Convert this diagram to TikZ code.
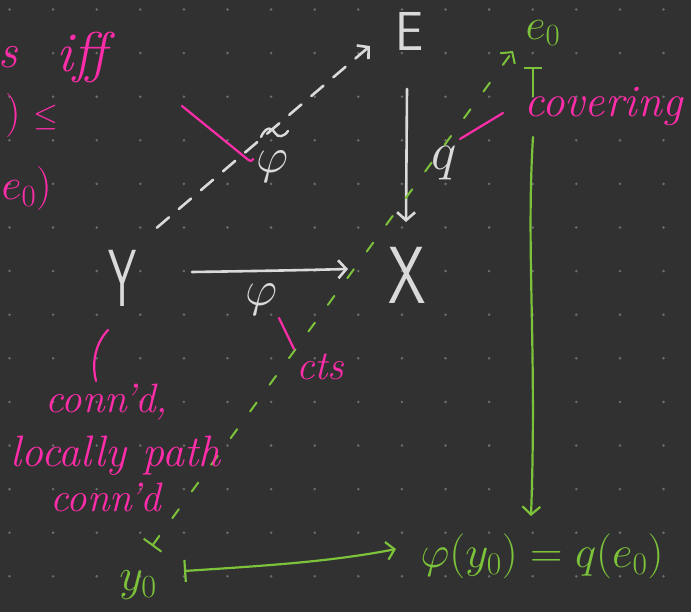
\RequirePackage{fix-cm}
\documentclass[tikz,border=0pt]{standalone}
\usepackage{graphicx}
\usetikzlibrary{arrows.meta}
\definecolor{bg}{HTML}{313131}
\definecolor{dotc}{HTML}{6E6E6E}
\definecolor{wht}{HTML}{DADADA}
\definecolor{pnk}{HTML}{FF2DAA}
\definecolor{grn}{HTML}{7CC23A}
\tikzset{
  chev/.tip={Straight Barb[length=8pt,width=18pt]},
  wline/.style={draw=wht, line width=2.6pt, line cap=round},
  gline/.style={draw=grn, line width=2.2pt, line cap=round},
  pline/.style={draw=pnk, line width=2.2pt, line cap=round},
  wlab/.style={text=wht, inner sep=0pt},
  glab/.style={text=grn, inner sep=0pt},
  ptext/.style={text=pnk, inner sep=0pt, font=\fontsize{41}{41}\selectfont\itshape},
  pmath/.style={text=pnk, inner sep=0pt, font=\fontsize{44}{44}\selectfont},
}
\begin{document}
\begin{tikzpicture}[x=1pt,y=-1pt]
\useasboundingbox (0,0) rectangle (691,612);
\clip (0,0) rectangle (691,612);
\fill[bg] (0,0) rectangle (691,612);
\foreach \i in {0,...,15}{\foreach \j in {0,...,13}{\fill[dotc] (9.5+43.6*\i,9.5+43.6*\j) circle (1.4pt);}}

% white objects
\node[wlab] (E) at (410,31) {\scalebox{1}[1.1]{\fontsize{50}{50}\selectfont\sffamily E}};
\node[wlab] (X) at (407,275) {\scalebox{1}[1.35]{\fontsize{60}{60}\selectfont\sffamily X}};
\node[wlab] (Y) at (123,278) {\scalebox{0.75}[1.35]{\fontsize{60}{60}\selectfont\sffamily Y}};
\node[wlab] (phit) at (273,167) {\fontsize{50}{50}\selectfont$\varphi$};
\coordinate (tl) at (261,137); \coordinate (tr) at (288,131);
\draw[wline, line width=2.4pt] (tl) .. controls (267,124) and (273,129) .. (275,133) .. controls (278,138) and (284,137) .. (tr);
\node[wlab] (phi) at (262,300) {\fontsize{50}{50}\selectfont$\varphi$};
\node[wlab] (q) at (444,163) {\fontsize{54}{54}\selectfont$q$};

\coordinate (ptA) at (153,231); \coordinate (ptB) at (370,46);
\draw[wline, dash pattern=on 16pt off 13pt, dash phase=24pt, -{chev}] (ptA) -- (ptB);
\coordinate (qa) at (407,89); \coordinate (qb) at (406,222);
\draw[wline, -{chev}] (qa) -- (qb);
\coordinate (pa) at (192,272); \coordinate (pb) at (348,269);
\draw[wline, -{chev}] (pa) .. controls (260,271) and (310,270) .. (pb);

% green objects
\node[glab] (e0) at (543,33) {\fontsize{44}{44}\selectfont$e_0$};
\node[glab] (y0) at (138,585) {\fontsize{46}{46}\selectfont$y_0$};
\node[glab] (img) at (542,556) {\fontsize{45}{45}\selectfont$\varphi(y_0)=q(e_0)$};

\coordinate (gy) at (152,546); \coordinate (ge) at (513,51);
\draw[gline, line width=2pt, dash pattern=on 11pt off 22pt, {Bar[width=22pt]}-{chev}] (gy) -- (ge);
\coordinate (v1) at (533,67); \coordinate (v2) at (533,96);
\coordinate (v3) at (533,137); \coordinate (v4) at (531,516);
\draw[gline, {Bar[width=18pt]}-] (v1) -- (v2);
\draw[gline, -{chev}] (v3) .. controls (526,250) and (537,350) .. (v4);
\coordinate (m1) at (184,571); \coordinate (m2) at (396,549);
\draw[gline, {Bar[width=22pt]}-{chev}] (m1) .. controls (260,566) and (330,562) .. (m2);

% pink annotations
\node[ptext, anchor=base east, font=\fontsize{48}{48}\selectfont\itshape] (s) at (18,68) {s};
\node[ptext, anchor=base west, font=\fontsize{56}{56}\selectfont\itshape] (iff) at (56,72) {iff};
\node[pmath, anchor=base east] (paren1) at (21,127) {$)$};
\node[pmath] (leq) at (46,118) {\fontsize{32}{32}\selectfont$\leq$};
\node[pmath, anchor=base east] (e0p) at (52,200) {$e_0)$};
\node[ptext, anchor=base west, font=\fontsize{45}{45}\selectfont\itshape] (cov) at (524,117) {covering};
\node[ptext, anchor=base west] (connd1) at (45,412) {conn'd,};
\node[ptext, anchor=base west, font=\fontsize{44}{44}\selectfont\itshape] (loc) at (10,466) {locally path};
\node[ptext, anchor=base west] (connd2) at (50,511) {conn'd};
\node[ptext, anchor=base west] (cts) at (296,380) {cts};

\coordinate (p1a) at (182,106); \coordinate (p1b) at (246,158); \coordinate (p1c) at (253,159);
\draw[pline] (p1a) -- (p1b) .. controls (249,161) and (252,162) .. (p1c);
\coordinate (p2a) at (460,139); \coordinate (p2b) at (503,113);
\draw[pline] (p2a) -- (p2b);
\coordinate (p3a) at (279,318); \coordinate (p3b) at (294,349);
\draw[pline] (p3a) -- (p3b);
\coordinate (p4a) at (108,330); \coordinate (p4b) at (96,381);
\draw[pline] (p4a) .. controls (94,345) and (92,365) .. (p4b);
\end{tikzpicture}
\end{document}
